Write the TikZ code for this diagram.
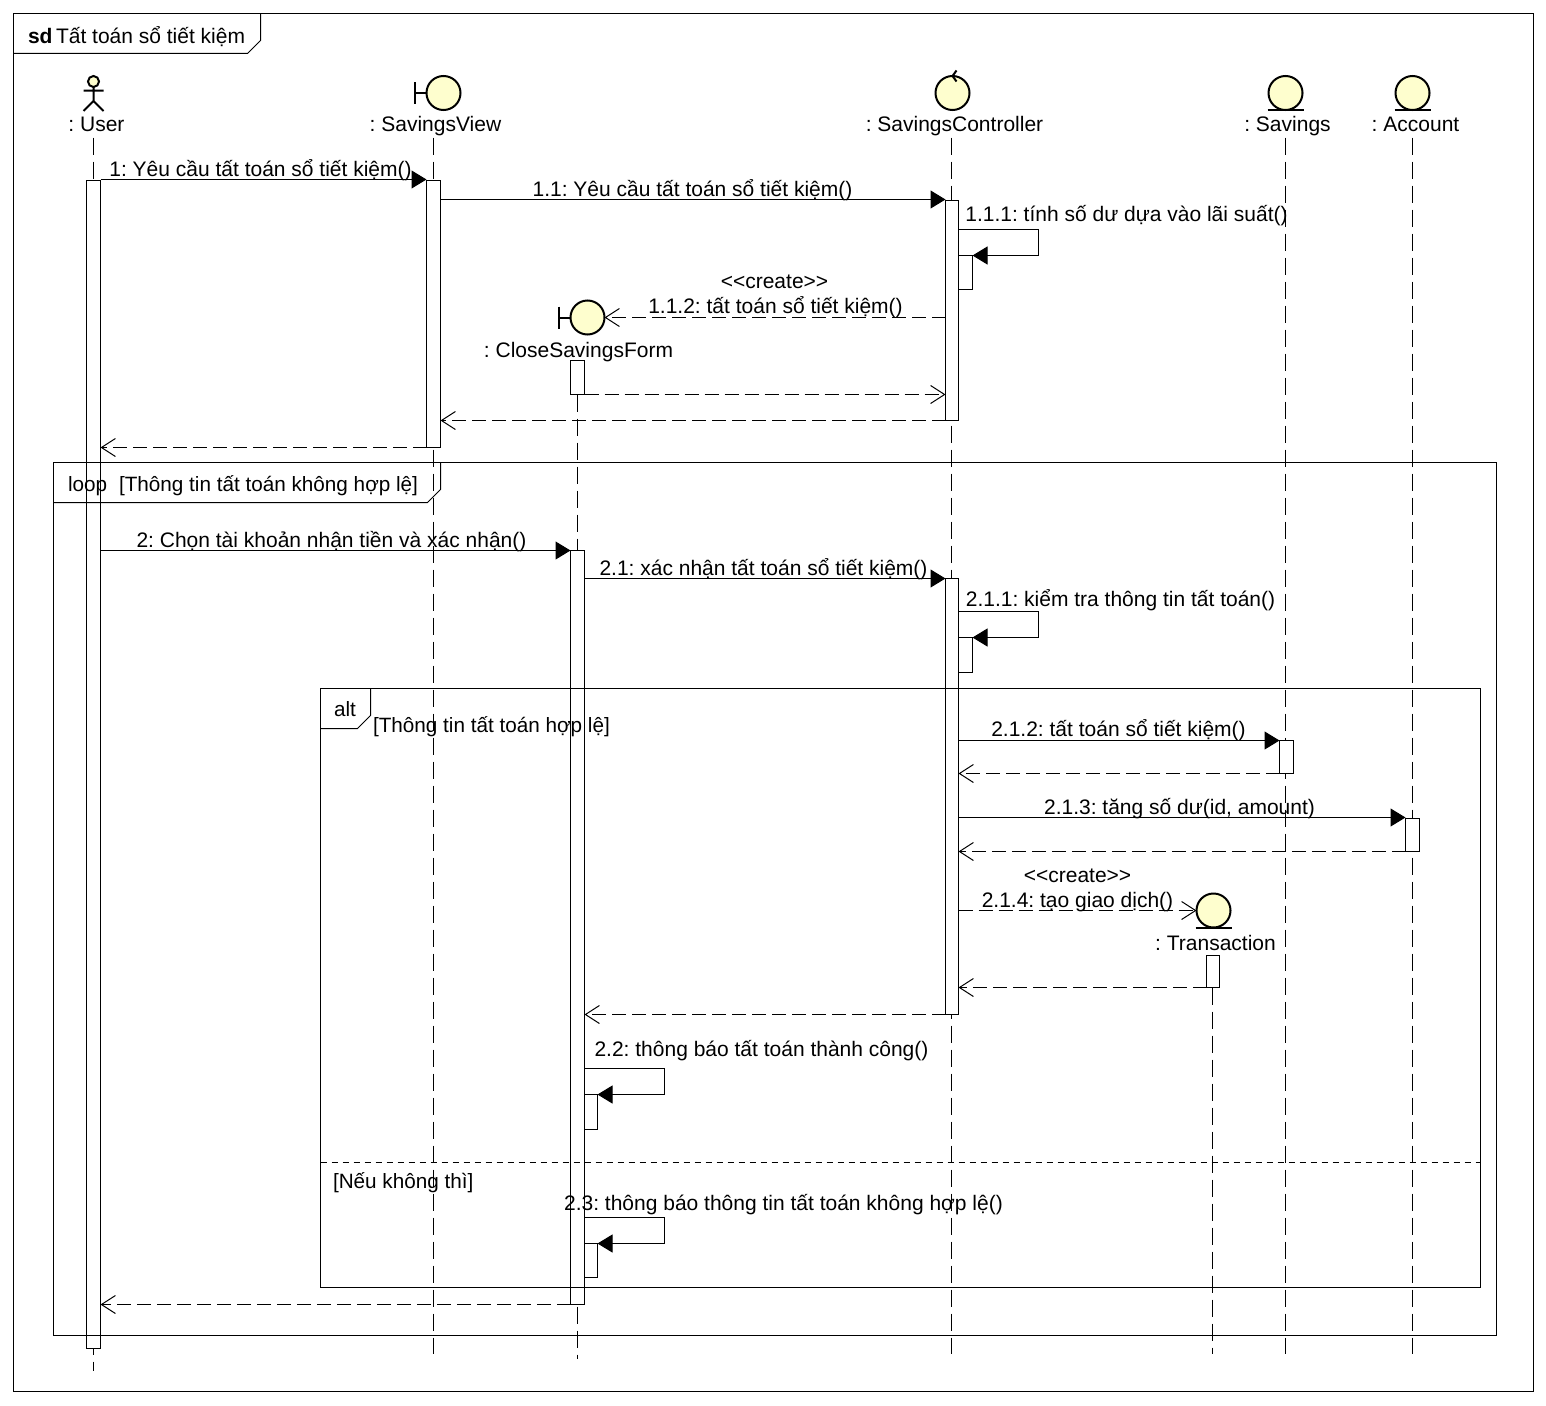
\documentclass[tikz,border=0pt]{standalone}
\usepackage{fontspec}
\setmainfont{Liberation Sans}
\usetikzlibrary{arrows.meta}

\begin{document}
\frenchspacing
\begin{tikzpicture}[x=1pt, y=-1pt, line width=1pt, font=\fontsize{21}{24}\selectfont,
    % one unit is one pixel of the sheet, y runs downwards
    lifeline/.style={dash pattern=on 17pt off 7pt},
    actbar/.style={draw=black, fill=white, minimum width=14pt, inner sep=0pt, outer sep=0pt},
    headball/.style={draw=black, fill=headfill, circle, line width=2pt, inner sep=0pt,
                     outer sep=0pt, minimum size=34pt},
    headline/.style={line width=2pt},
    headlab/.style={anchor=base, inner sep=0pt},
    msglab/.style={anchor=base, inner sep=0pt},
    framelab/.style={anchor=base west, inner sep=0pt},
    condlab/.style={framelab, font=\fontsize{20.7}{24}\selectfont},
    call/.style={-{Triangle[length=15pt,width=18pt]}},
    reply/.style={dash pattern=on 14pt off 6pt, -{Straight Barb[length=14pt,width=18pt]}}]
  \definecolor{headfill}{HTML}{FEFECE}
  \useasboundingbox (-0.5,-0.5) rectangle (1545.5,1404.5);

  % ---- the heads of the lifelines
  \node[headball, minimum size=11pt] (userHead) at (93,81) {};
  \draw[headline] (userHead.south) -- ++(0,14) coordinate (userHip) -- ++(-10,10)
    (userHip) -- ++(10,10) (83,90) -- (103,90);
  \node[headball] (viewHead) at (443,92.5) {};
  \draw[headline] (viewHead.west) -- ++(-12,0) ++(0,-11) -- ++(0,22);
  \node[headball] (formHead) at (587,317) {};
  \draw[headline] (formHead.west) -- ++(-12,0) ++(0,-11) -- ++(0,22);
  \node[headball] (ctlHead) at (952,92.5) {};
  \draw[headline] (956,70) -- (ctlHead.north) -- (956,81);
  \node[headball] (savHead) at (1285,92.5) {};
  \draw[headline] (savHead.south) ++(-18,0) -- ++(36,0);
  \node[headball] (accHead) at (1412,92.5) {};
  \draw[headline] (accHead.south) ++(-18,0) -- ++(36,0);
  \node[headball] (transHead) at (1213,910) {};
  \draw[headline] (transHead.south) ++(-18,0) -- ++(36,0);

  \node[headlab] (userLab)  at (96,131)   {: User};
  \node[headlab] (viewLab)  at (435,131)  {: SavingsView};
  \node[headlab] (formLab)  at (578,357)  {: CloseSavingsForm};
  \node[headlab] (ctlLab)   at (954,131)  {: SavingsController};
  \node[headlab] (savLab)   at (1287,131) {: Savings};
  \node[headlab] (accLab)   at (1415,131) {: Account};
  \node[headlab] (transLab) at (1215,950) {: Transaction};

  % ---- lifelines, each from under its head
  \coordinate (userEnd)  at (93,1370);
  \coordinate (viewEnd)  at (433,1353);
  \coordinate (formEnd)  at (577,1358);
  \coordinate (ctlEnd)   at (951,1353);
  \coordinate (savEnd)   at (1285,1353);
  \coordinate (accEnd)   at (1412,1353);
  \coordinate (transEnd) at (1212,1353);
  \draw[lifeline] (userEnd |- 0,137) -- (userEnd);
  \draw[lifeline] (viewEnd |- 0,137) -- (viewEnd);
  \draw[lifeline] (formEnd |- 0,394) -- (formEnd);
  \draw[lifeline] (ctlEnd |- 0,137) -- (ctlEnd);
  \draw[lifeline] (savEnd |- 0,137) -- (savEnd);
  \draw[lifeline] (accEnd |- 0,137) -- (accEnd);
  \draw[lifeline] (transEnd |- 0,987) -- (transEnd);

  % ---- activation bars
  \node[actbar, minimum height=1168pt] (barUser)     at (93,764) {};
  \node[actbar, minimum height=267pt]  (barView)     at (433,313.5) {};
  \node[actbar, minimum width=13pt, minimum height=220pt] (barCtlA) at (951.5,310) {};
  \node[actbar, minimum height=34pt]   (barCtlSelfA) at (965,272) {};
  \node[actbar, minimum height=34pt]   (barFormA)    at (577,377) {};
  \node[actbar, minimum height=754pt]  (barFormB)    at (577,927) {};
  \node[actbar, minimum width=13pt, minimum height=436pt] (barCtlB) at (951.5,796) {};
  \node[actbar, minimum height=35pt]   (barCtlSelfB) at (965,654.5) {};
  \node[actbar, minimum height=33pt]   (barSav)      at (1286,756.5) {};
  \node[actbar, minimum height=33pt]   (barAcc)      at (1412,834.5) {};
  \node[actbar, minimum width=13pt, minimum height=32pt] (barTrans) at (1212.5,971) {};
  \node[actbar, minimum width=13pt, minimum height=35pt] (barFormSelfA) at (590.5,1111.5) {};
  \node[actbar, minimum width=13pt, minimum height=34pt] (barFormSelfB) at (590.5,1260) {};

  % ---- frames
  \draw (13,13) rectangle (1533,1391);
  \draw (13,53) -- (247,53) -- (260,40) -- (260,13);
  \node[framelab, font=\fontsize{21}{24}\selectfont\bfseries] (sdLab) at (27,43) {sd};
  \node[framelab] (sdTitle) at (55,43) {Tất toán sổ tiết kiệm};

  \draw (53,462) rectangle (1496,1335);
  \draw (53,502) -- (427,502) -- (440,489) -- (440,462);
  \node[condlab] (loopLab)  at (67,491)  {loop};
  \node[condlab] (loopCond) at (118,491) {[Thông tin tất toán không hợp lệ]};

  \draw (320,688) rectangle (1480,1287);
  \draw (320,728) -- (357,728) -- (370,715) -- (370,688);
  \node[condlab] (altLab)  at (333,716) {alt};
  \node[condlab] (altCond) at (372,732) {[Thông tin tất toán hợp lệ]};
  \draw[dash pattern=on 6pt off 5pt] (320,1162) -- (1480,1162);
  \node[condlab] (elseCond) at (332,1188) {[Nếu không thì]};

  % ---- the heights the messages run at
  \foreach \lvl/\y in {a/179, b/199, c/229, e/394, f/420, g/447, h/550, i/578, j/611,
                       k/740, l/773, m/817, n/851, p/987, q/1014, r/1068, s/1217, t/1304}
    \coordinate (lvl\lvl) at (0,\y);

  % ---- messages
  \draw[call]  (barUser.east |- lvla) -- (barView.west |- lvla);
  \draw[call]  (barView.east |- lvlb) -- (barCtlA.west |- lvlb);
  \draw[call]  (barCtlA.east |- lvlc) -- ++(80,0) |- (barCtlSelfA.north east);
  \draw[reply] (barCtlA.west |- formHead.east) -- (formHead.east);
  \draw[reply] (barFormA.south east) -- (barCtlA.west |- lvle);
  \draw[reply] (barCtlA.south west) -- (barView.east |- lvlf);
  \draw[reply] (barView.south west) -- (barUser.east |- lvlg);
  \draw[call]  (barUser.east |- lvlh) -- (barFormB.north west);
  \draw[call]  (barFormB.east |- lvli) -- (barCtlB.north west);
  \draw[call]  (barCtlB.east |- lvlj) -- ++(80,0) |- (barCtlSelfB.north east);
  \draw[call]  (barCtlB.east |- lvlk) -- (barSav.north west);
  \draw[reply] (barSav.south west) -- (barCtlB.east |- lvll);
  \draw[call]  (barCtlB.east |- lvlm) -- (barAcc.west |- lvlm);
  \draw[reply] (barAcc.south west) -- (barCtlB.east |- lvln);
  \draw[reply] (barCtlB.east |- transHead.west) -- (transHead.west);
  \draw[reply] (barTrans.south west) -- (barCtlB.east |- lvlp);
  \draw[reply] (barCtlB.south west) -- (barFormB.east |- lvlq);
  \draw[call]  (barFormB.east |- lvlr) -- ++(80,0) |- (barFormSelfA.north east);
  \draw[call]  (barFormB.east |- lvls) -- ++(80,0) |- (barFormSelfB.north east);
  \draw[reply] (barFormB.south west) -- (barUser.east |- lvlt);

  % ---- message texts
  \node[msglab] (m1)   at (260,176)  {1: Yêu cầu tất toán sổ tiết kiệm()};
  \node[msglab] (m11)  at (692,196)  {1.1: Yêu cầu tất toán sổ tiết kiệm()};
  \node[msglab] (m111) at (1126,221) {1.1.1: tính số dư dựa vào lãi suất()};
  \node[msglab] (c112) at (774,288)  {<{}<create>{}>};
  \node[msglab] (m112) at (775,313)  {1.1.2: tất toán sổ tiết kiệm()};
  \node[msglab] (m2)   at (331,547)  {2: Chọn tài khoản nhận tiền và xác nhận()};
  \node[msglab] (m21)  at (763,575)  {2.1: xác nhận tất toán sổ tiết kiệm()};
  \node[msglab] (m211) at (1120,606) {2.1.1: kiểm tra thông tin tất toán()};
  \node[msglab] (m212) at (1118,736) {2.1.2: tất toán sổ tiết kiệm()};
  \node[msglab] (m213) at (1179,814) {2.1.3: tăng số dư(id, amount)};
  \node[msglab] (c214) at (1077,882) {<{}<create>{}>};
  \node[msglab] (m214) at (1077,907) {2.1.4: tạo giao dịch()};
  \node[msglab] (m22)  at (761,1056) {2.2: thông báo tất toán thành công()};
  \node[msglab] (m23)  at (783,1210) {2.3: thông báo thông tin tất toán không hợp lệ()};
\end{tikzpicture}
\end{document}
